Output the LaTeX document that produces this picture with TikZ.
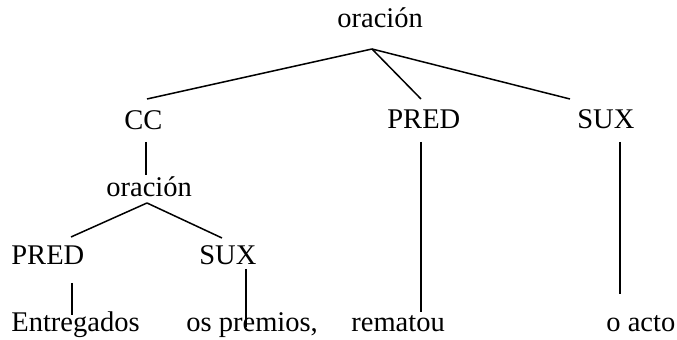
\documentclass[tikz,border=0pt]{standalone}
\usepackage{fontspec}
\setmainfont{Liberation Serif}
\usepackage{tikz}
\tikzstyle{word} = [anchor=base west, inner sep=0pt, font=\fontsize{14.25}{17}\selectfont]
\tikzstyle{branch} = [line width=0.75pt]
\begin{document}
\begin{tikzpicture}[x=0.5pt, y=-0.5pt]
    \useasboundingbox (0,0) rectangle (677,340);

    \node (root) [word] at (337,28) {oración};
    \node (cc) [word] at (124,130) {CC};
    \node (pred) [word] at (387,129) {PRED};
    \node (sux) [word] at (577,129) {SUX};
    \node (sub) [word] at (106,197) {oración};
    \node (pred sub) [word] at (11,265) {PRED};
    \node (sux sub) [word] at (199,265) {SUX};
    \node (entregados) [word] at (11,332) {Entregados};
    \node (premios) [word] at (186,332) {os premios,};
    \node (rematou) [word] at (351,332) {rematou};
    \node (acto) [word] at (606,332) {o acto};

    % Branch points.
    \coordinate (foot root) at (372,49);
    \coordinate (foot sub) at (147,203);
    \coordinate (head cc) at (147,99);
    \coordinate (head pred) at (421,99);
    \coordinate (head sux) at (570,99);
    \coordinate (head pred sub) at (71,237);
    \coordinate (head sux sub) at (222,238);

    \foreach \n in {cc, pred, sux} {
        \draw [branch] (foot root) -- (head \n);
    }
    \foreach \n in {pred sub, sux sub} {
        \draw [branch] (foot sub) -- (head \n);
    }

    % Stems.
    \coordinate (stem cc) at (146,142);
    \coordinate (top sub) at (146,175);
    \coordinate (stem pred) at (421,142);
    \coordinate (top rematou) at (421,312);
    \coordinate (stem sux) at (620,142);
    \coordinate (top acto) at (620,294);
    \coordinate (stem pred sub) at (72,283);
    \coordinate (top entregados) at (72,315);
    \coordinate (stem sux sub) at (246,269);
    \coordinate (top premios) at (246,327);

    \draw [branch] (stem cc) -- (top sub);
    \draw [branch] (stem pred) -- (top rematou);
    \draw [branch] (stem sux) -- (top acto);
    \draw [branch] (stem pred sub) -- (top entregados);
    \draw [branch] (stem sux sub) -- (top premios);
\end{tikzpicture}
\end{document}
